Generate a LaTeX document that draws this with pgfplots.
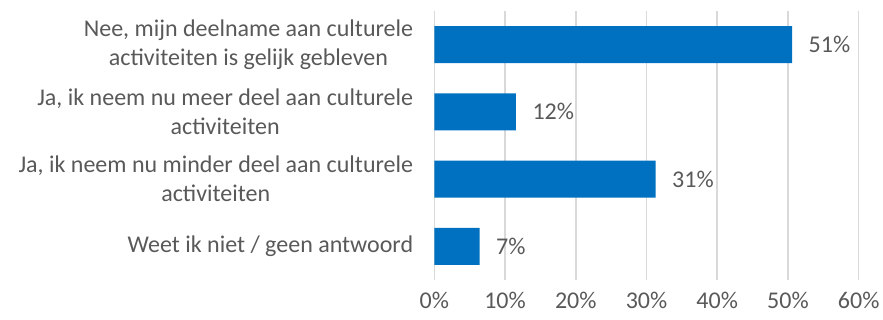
\documentclass[border=0pt]{standalone}
\usepackage{pgfplots}
\pgfplotsset{compat=1.18}
\usepackage{fontspec}
\setmainfont{Carlito}
\definecolor{barblue}{HTML}{0070C0}
\definecolor{txtgray}{HTML}{595959}
\definecolor{gridgray}{HTML}{D9D9D9}
\begin{document}
\begin{tikzpicture}
\useasboundingbox (-434.3pt,-39pt) rectangle (448.7pt,280pt);
\begin{axis}[
  at={(0,0)}, anchor=south west,
  scale only axis, width=424.4pt, height=269pt,
  xbar, bar width=37pt,
  xmin=0, xmax=60, ymin=-0.5, ymax=3.5,
  xtick={0,10,...,60},
  xticklabel={\pgfmathprintnumber{\tick}\%},
  ytick={0,1,2,3},
  yticklabels={{Weet ik niet / geen antwoord},{Ja, ik neem nu minder deel aan culturele\\activiteiten},{Ja, ik neem nu meer deel aan culturele\\activiteiten},{Nee, mijn deelname aan culturele\\activiteiten is gelijk gebleven}},
  /pgf/number format/assume math mode=true,
  font=\fontsize{24}{29}\selectfont,
  yticklabel style={align=center, inner sep=0pt, xshift=-21pt, text=txtgray, font=\fontsize{24}{29}\selectfont},
  xticklabel style={text=txtgray, inner sep=0pt, yshift=-12pt, font=\fontsize{24}{29}\selectfont},
  major tick length=0pt,
  xmajorgrids, grid style={gridgray, line width=1.5pt},
  axis line style={draw=none},
  axis x line*=bottom, axis y line*=left,
  y axis line style={draw=gridgray, line width=1.5pt},
  nodes near coords={\pgfplotspointmeta\%},
  point meta=explicit symbolic,
  nodes near coords style={text=txtgray, anchor=west, xshift=13pt, font=\fontsize{24}{29}\selectfont},
  clip=false,
]
\addplot[fill=barblue, draw=none] table[meta=lab] {
x y lab
6.4 0 7
31.3 1 31
11.55 2 12
50.6 3 51
};
\end{axis}
\end{tikzpicture}
\end{document}
